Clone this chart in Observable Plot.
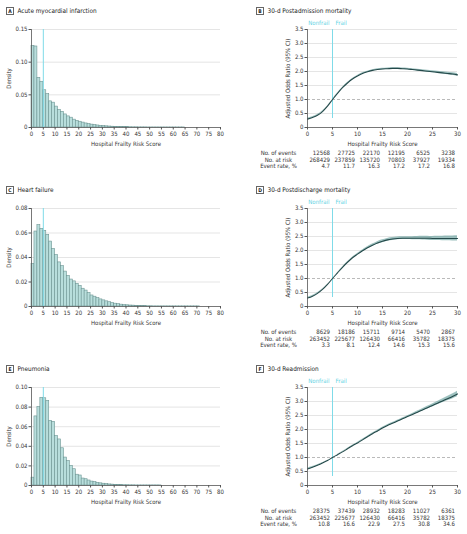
<!DOCTYPE html>
<html><head><meta charset="utf-8">
<script src="https://cdn.jsdelivr.net/npm/d3@7"></script>
<script src="https://cdn.jsdelivr.net/npm/@observablehq/plot@0.6"></script>
<style>
body{margin:0;background:#fff;font-family:"DejaVu Sans Condensed",sans-serif;}
#wrap{position:relative;width:467px;height:534px;overflow:hidden;background:#fff}
.panel{position:absolute;line-height:0}
.panel svg{display:block}
.title{position:absolute;font-size:6.4px;color:#222;white-space:nowrap;display:flex;align-items:center;height:9px}
.title .box{display:inline-block;box-sizing:border-box;border:0.8px solid #666;width:8px;height:8px;font-size:5px;line-height:6.5px;text-align:center;font-weight:bold;margin-right:3.5px}
</style></head><body><div id="wrap"></div><script>
// ---------- data ----------
const binWidth = 1.25;
const frailThreshold = 5;
const referenceOR = 1;
const histXTicks = [0,5,10,15,20,25,30,35,40,45,50,55,60,65,70,75,80];
const orXTicks = [0,5,10,15,20,25,30];
const orYTicks = [0,0.5,1,1.5,2,2.5,3,3.5];
const densityTicksA = [0,0.05,0.10,0.15];
const densityTicksC = [0,0.02,0.04,0.06,0.08];
const densityTicksE = [0,0.02,0.04,0.06,0.08,0.10];

const amiDensity = [0.125,0.124,0.076,0.070,0.057,0.051,0.040,0.038,0.032,0.027,0.024,0.020,0.017,0.015,0.012,0.010,0.0088,0.0075,0.0062,0.0052,0.0044,0.0037,0.0031,0.0026,0.0022,0.0018,0.0015,0.0012,0.0010,0.0008,0.0007,0.0006,0.0005,0.0004,0.0003,0.0003,0.0002,0.0002,0.0002,0.0001,0.0001,0.0001,0.0001,0.0001,0.0001,0.0001,0.0001,0.0001,0.0001,0.0001,0.0001,0.0001];
const hfDensity = [0.0348,0.0612,0.0664,0.0634,0.0618,0.0585,0.053,0.047,0.042,0.036,0.033,0.0285,0.025,0.022,0.0205,0.0185,0.0168,0.0145,0.013,0.011,0.009,0.008,0.0068,0.0058,0.005,0.0042,0.0035,0.0028,0.0023,0.0019,0.0015,0.0012,0.001,0.0008,0.0007,0.0005,0.0004,0.0003,0.0003,0.0002,0.0002,0.0001,0.0001,0.0001,0.0001,0.0001,0.0001,0.0001,0.0001,0.0001,0.0001,0.0001,0.0001,0.0001,0.0001,0.0001,0.0001];
const pnDensity = [0.008,0.0705,0.080,0.0895,0.089,0.0864,0.066,0.065,0.0505,0.047,0.038,0.0285,0.025,0.020,0.0166,0.011,0.0102,0.0071,0.0064,0.0051,0.004,0.0034,0.0027,0.0022,0.0018,0.0014,0.0011,0.0009,0.0007,0.0005,0.0004,0.0003,0.0003,0.0002,0.0002,0.0001,0.0001,0.0001,0.0001,0.0001,0.0001,0.0001,0.0001,0.0001];

const orX = [0,1,2,3,4,5,6,7,8,9,10,11,12,13,14,15,16,17,18,19,20,21,22,23,24,25,26,27,28,29,30];
const postAdmOR = [0.30,0.36,0.44,0.57,0.76,1.00,1.22,1.42,1.59,1.73,1.84,1.93,1.99,2.04,2.07,2.09,2.10,2.11,2.11,2.10,2.09,2.07,2.05,2.03,2.01,1.99,1.97,1.95,1.93,1.91,1.88];
const postAdmLo = [0.27,0.335,0.42,0.555,0.752,0.997,1.212,1.408,1.575,1.712,1.82,1.909,1.968,2.017,2.046,2.065,2.074,2.083,2.082,2.071,2.06,2.039,2.018,1.996,1.974,1.952,1.93,1.908,1.885,1.862,1.83];
const postAdmHi = [0.33,0.385,0.46,0.585,0.768,1.003,1.228,1.432,1.605,1.748,1.86,1.951,2.012,2.063,2.094,2.115,2.126,2.137,2.138,2.129,2.12,2.101,2.082,2.064,2.046,2.028,2.01,1.992,1.975,1.958,1.93];
const postDisOR = [0.30,0.37,0.47,0.61,0.79,1.00,1.20,1.40,1.58,1.74,1.87,1.99,2.10,2.19,2.27,2.33,2.38,2.41,2.43,2.44,2.44,2.44,2.44,2.44,2.44,2.43,2.43,2.43,2.43,2.43,2.43];
const postDisLo = [0.27,0.345,0.45,0.595,0.782,0.997,1.192,1.388,1.564,1.72,1.845,1.96,2.065,2.15,2.225,2.28,2.33,2.36,2.38,2.39,2.39,2.385,2.38,2.375,2.37,2.36,2.355,2.35,2.345,2.34,2.335];
const postDisHi = [0.33,0.395,0.49,0.625,0.798,1.003,1.208,1.412,1.596,1.76,1.895,2.02,2.135,2.23,2.315,2.38,2.43,2.46,2.48,2.49,2.49,2.495,2.5,2.505,2.51,2.5,2.505,2.51,2.515,2.52,2.525];
const readmOR = [0.59,0.65,0.72,0.80,0.89,1.00,1.10,1.20,1.31,1.42,1.52,1.63,1.74,1.85,1.95,2.05,2.14,2.22,2.30,2.38,2.46,2.54,2.62,2.70,2.78,2.86,2.94,3.02,3.10,3.18,3.27];
const readmLo = [0.56,0.625,0.70,0.788,0.884,0.998,1.094,1.19,1.297,1.404,1.502,1.61,1.718,1.826,1.925,2.024,2.113,2.192,2.271,2.35,2.428,2.505,2.582,2.658,2.733,2.808,2.88,2.952,3.023,3.093,3.17];
const readmHi = [0.62,0.675,0.74,0.812,0.896,1.002,1.106,1.21,1.323,1.436,1.538,1.65,1.762,1.874,1.975,2.076,2.167,2.248,2.329,2.41,2.492,2.575,2.658,2.742,2.827,2.912,3.0,3.088,3.177,3.267,3.37];

const tableX = [5,10,15,20,25,30];
const tableRowLabels = ["No. of events","No. at risk","Event rate, %"];
const postAdmEvents = [12568,27725,22170,12195,6525,3238];
const postAdmAtRisk = [268429,237859,135720,70803,37927,19334];
const postAdmRate = [4.7,11.7,16.3,17.2,17.2,16.8];
const postDisEvents = [8629,18186,15711,9714,5470,2867];
const postDisAtRisk = [263452,225677,126430,66416,35782,18375];
const postDisRate = [3.3,8.1,12.4,14.6,15.3,15.6];
const readmEvents = [28375,37439,28932,18283,11027,6361];
const readmAtRisk = [263452,225677,126430,66416,35782,18375];
const readmRate = [10.8,16.6,22.9,27.5,30.8,34.6];

// ---------- rendering ----------
const FONT = '"DejaVu Sans Condensed",sans-serif';
const FS = "6px";
const wrap = document.getElementById("wrap");
const fmtCount = n => String(n);
const fmtRate = d3.format(".1f");

function place(el, left, top) {
  const d = document.createElement("div");
  d.className = "panel"; d.style.left = left + "px"; d.style.top = top + "px";
  d.appendChild(el); wrap.appendChild(d);
}
function title(letter, text, left, top) {
  const d = document.createElement("div");
  d.className = "title"; d.style.left = left + "px"; d.style.top = top + "px";
  d.innerHTML = `<span class="box">${letter}</span><span>${text}</span>`;
  wrap.appendChild(d);
}
const axisColor = "#555";
const textColor = "#333";

function histPanel(values, yTicks) {
  const yMax = yTicks[yTicks.length - 1];
  const bins = values.map((d, i) => ({x1: i * binWidth, x2: (i + 1) * binWidth, y: d}));
  const yFmt = d => d === 0 ? "0" : d3.format(".2f")(d);
  return Plot.plot({
    width: 232, height: 130, marginLeft: 31, marginRight: 12, marginTop: 9, marginBottom: 23,
    style: {fontFamily: FONT, fontSize: FS, color: textColor, background: "transparent", overflow: "visible"},
    x: {domain: [0, 80]},
    y: {domain: [0, yMax]},
    marks: [
      Plot.gridY(yTicks.filter(t => t > 0), {stroke: "#dedede", strokeOpacity: 1, strokeWidth: 0.8}),
      Plot.rectY(bins, {x1: "x1", x2: "x2", y: "y", fill: "#b8dedc", stroke: "#6d9593", strokeWidth: 0.6}),
      Plot.ruleX([frailThreshold], {y1: 0, y2: yMax, stroke: "#7fdbe8", strokeWidth: 1}),
      Plot.ruleY([0], {stroke: axisColor, strokeWidth: 0.8}),
      Plot.ruleX([0], {y1: 0, y2: yMax, stroke: axisColor, strokeWidth: 0.8}),
      Plot.axisY({ticks: yTicks, tickFormat: yFmt, tickSize: 2.5, tickPadding: 1.5, stroke: axisColor,
        label: "Density", labelAnchor: "center", labelOffset: 25, labelArrow: "none"}),
      Plot.axisX({ticks: histXTicks, tickSize: 2.5, tickPadding: 1.5, stroke: axisColor,
        label: "Hospital Frailty Risk Score", labelAnchor: "center", labelOffset: 18, labelArrow: "none"})
    ]
  });
}

function orPanel(or, lo, hi, events, atRisk, rate) {
  const rows = orX.map((x, i) => ({x, or: or[i], lo: lo[i], hi: hi[i]}));
  const yFmt = d => d === 0 ? "0" : d3.format(".1f")(d);
  const yMax = orYTicks[orYTicks.length - 1];
  const tableRow = (vals, fmt, dy) => Plot.text(tableX, {x: d => d, text: (d, i) => fmt(vals[i]),
    frameAnchor: "bottom", lineAnchor: "middle", textAnchor: "end", dx: -2.5, dy, fill: textColor});
  const rowLabel = (i, dy) => Plot.text([tableRowLabels[i]], {text: d => d, frameAnchor: "bottom-left",
    lineAnchor: "middle", textAnchor: "middle", dx: -29, dy, fill: textColor});
  return Plot.plot({
    width: 217, height: 155, marginLeft: 57, marginRight: 10, marginTop: 9, marginBottom: 48,
    style: {fontFamily: FONT, fontSize: FS, color: textColor, background: "transparent", overflow: "visible"},
    x: {domain: [0, 30]},
    y: {domain: [0, yMax]},
    marks: [
      Plot.gridY(orYTicks.filter(t => t > 0 && t !== referenceOR), {stroke: "#dedede", strokeOpacity: 1, strokeWidth: 0.8}),
      Plot.ruleY([referenceOR], {stroke: "#a8a8a8", strokeWidth: 0.8, strokeDasharray: "3,2"}),
      Plot.ruleX([frailThreshold], {y1: 0, y2: yMax, insetTop: -9, stroke: "#7fdbe8", strokeWidth: 1}),
      Plot.text(["Nonfrail"], {text: d => d, x: frailThreshold, frameAnchor: "top", lineAnchor: "middle", dy: -6, dx: -3, textAnchor: "end", fill: "#5fd3e4"}),
      Plot.text(["Frail"], {text: d => d, x: frailThreshold, frameAnchor: "top", lineAnchor: "middle", dy: -6, dx: 3, textAnchor: "start", fill: "#5fd3e4"}),
      Plot.areaY(rows, {x: "x", y1: "lo", y2: "hi", fill: "#5b9895", fillOpacity: 0.6, curve: "monotone-x"}),
      Plot.lineY(rows, {x: "x", y: "or", stroke: "#24494a", strokeWidth: 1.1, curve: "monotone-x"}),
      Plot.ruleY([0], {stroke: axisColor, strokeWidth: 0.8}),
      Plot.ruleX([0], {y1: 0, y2: yMax, stroke: axisColor, strokeWidth: 0.8}),
      Plot.axisY({ticks: orYTicks, tickFormat: yFmt, tickSize: 2.5, tickPadding: 1.5, stroke: axisColor,
        label: "Adjusted Odds Ratio (95% CI)", labelAnchor: "center", labelOffset: 22, labelArrow: "none"}),
      Plot.axisX({ticks: orXTicks, tickSize: 2.5, tickPadding: 1.5, stroke: axisColor,
        label: "Hospital Frailty Risk Score", labelAnchor: "center", labelOffset: 18, labelArrow: "none"}),
      rowLabel(0, 26), rowLabel(1, 32.5), rowLabel(2, 39),
      tableRow(events, fmtCount, 26),
      tableRow(atRisk, fmtCount, 32.5),
      tableRow(rate, fmtRate, 39)
    ]
  });
}

const rowStep = 179;
place(histPanel(amiDensity, densityTicksA), 0, 20);
place(histPanel(hfDensity, densityTicksC), 0, 20 + rowStep);
place(histPanel(pnDensity, densityTicksE), 0, 20 + 2 * rowStep);
place(orPanel(postAdmOR, postAdmLo, postAdmHi, postAdmEvents, postAdmAtRisk, postAdmRate), 250, 20);
place(orPanel(postDisOR, postDisLo, postDisHi, postDisEvents, postDisAtRisk, postDisRate), 250, 20 + rowStep);
place(orPanel(readmOR, readmLo, readmHi, readmEvents, readmAtRisk, readmRate), 250, 20 + 2 * rowStep);

title("A", "Acute myocardial infarction", 6, 6);
title("C", "Heart failure", 6, 6 + rowStep);
title("E", "Pneumonia", 6, 6 + 2 * rowStep);
title("B", "30-d Postadmission mortality", 256, 6);
title("D", "30-d Postdischarge mortality", 256, 6 + rowStep);
title("F", "30-d Readmission", 256, 6 + 2 * rowStep);
</script></body></html>
